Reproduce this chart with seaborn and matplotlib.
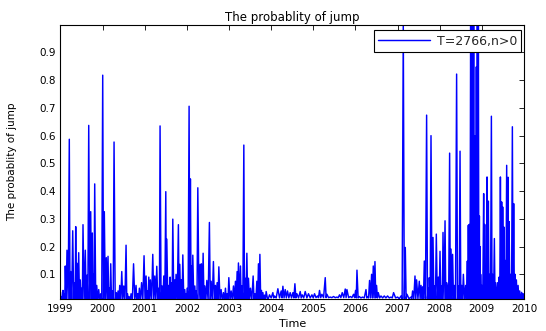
import matplotlib
matplotlib.use("Agg")
import matplotlib.pyplot as plt
import pandas as pd
import seaborn as sns

# Local peaks of the jump probability (fractional year, probability)
jump_years = [
    1999.000, 1999.036, 1999.059, 1999.088, 1999.114, 1999.154, 1999.209, 1999.242,
    1999.290, 1999.337, 1999.361, 1999.392, 1999.432, 1999.470, 1999.504, 1999.534,
    1999.589, 1999.629, 1999.670, 1999.717, 1999.755, 1999.779, 1999.812, 1999.860,
    1999.907, 1999.955, 2000.002, 2000.040, 2000.088, 2000.128, 2000.159, 2000.192,
    2000.230, 2000.271, 2000.325, 2000.366, 2000.406, 2000.454, 2000.501, 2000.556,
    2000.591, 2000.627, 2000.675, 2000.734, 2000.793, 2000.833, 2000.872, 2000.924,
    2000.983, 2001.031, 2001.062, 2001.095, 2001.133, 2001.190, 2001.238, 2001.285,
    2001.333, 2001.363, 2001.411, 2001.451, 2001.499, 2001.523, 2001.570, 2001.601,
    2001.632, 2001.665, 2001.713, 2001.743, 2001.798, 2001.831, 2001.869, 2001.903,
    2001.950, 2001.981, 2002.005, 2002.052, 2002.083, 2002.116, 2002.140, 2002.188,
    2002.219, 2002.259, 2002.314, 2002.344, 2002.385, 2002.425, 2002.473, 2002.534,
    2002.575, 2002.629, 2002.677, 2002.717, 2002.758, 2002.812, 2002.867, 2002.915,
    2002.955, 2002.995, 2003.050, 2003.105, 2003.152, 2003.192, 2003.223, 2003.271,
    2003.304, 2003.351, 2003.382, 2003.423, 2003.461, 2003.508, 2003.572, 2003.613,
    2003.660, 2003.698, 2003.732, 2003.770, 2003.803, 2003.843, 2003.881, 2003.960,
    2004.040, 2004.078, 2004.159, 2004.238, 2004.278, 2004.333, 2004.387, 2004.451,
    2004.516, 2004.563, 2004.610, 2004.689, 2004.736, 2004.808, 2004.886, 2004.967,
    2005.029, 2005.100, 2005.147, 2005.204, 2005.283, 2005.323, 2005.401, 2005.480,
    2005.561, 2005.622, 2005.686, 2005.758, 2005.798, 2005.877, 2005.955, 2006.003,
    2006.036, 2006.090, 2006.169, 2006.250, 2006.288, 2006.335, 2006.383, 2006.423,
    2006.463, 2006.501, 2006.542, 2006.606, 2006.684, 2006.762, 2006.843, 2006.905,
    2007.000, 2007.081, 2007.135, 2007.183, 2007.223, 2007.318, 2007.356, 2007.413,
    2007.451, 2007.515, 2007.556, 2007.594, 2007.634, 2007.689, 2007.729, 2007.753,
    2007.793, 2007.841, 2007.879, 2007.919, 2007.967, 2008.007, 2008.045, 2008.078,
    2008.126, 2008.164, 2008.188, 2008.235, 2008.268, 2008.306, 2008.347, 2008.401,
    2008.442, 2008.482, 2008.520, 2008.561, 2008.615, 2008.656, 2008.679, 2008.703,
    2008.734, 2008.758, 2008.782, 2008.805, 2008.829, 2008.846, 2008.869, 2008.893,
    2008.917, 2008.941, 2008.957, 2008.971, 2009.000, 2009.043, 2009.067, 2009.090,
    2009.123, 2009.154, 2009.185, 2009.226, 2009.257, 2009.297, 2009.328, 2009.375,
    2009.409, 2009.440, 2009.470, 2009.494, 2009.527, 2009.551, 2009.589, 2009.622,
    2009.646, 2009.684, 2009.724, 2009.755, 2009.789, 2009.819, 2009.860, 2009.898,
    2009.945, 2009.979, 2010.000,
]
jump_probs = [
    0.036, 0.020, 0.042, 0.030, 0.130, 0.187, 0.587, 0.110,
    0.257, 0.070, 0.272, 0.140, 0.178, 0.080, 0.050, 0.279,
    0.187, 0.097, 0.637, 0.326, 0.249, 0.100, 0.426, 0.060,
    0.045, 0.030, 0.818, 0.326, 0.160, 0.165, 0.050, 0.138,
    0.040, 0.577, 0.034, 0.040, 0.060, 0.110, 0.058, 0.205,
    0.030, 0.020, 0.030, 0.138, 0.060, 0.030, 0.050, 0.070,
    0.167, 0.094, 0.040, 0.090, 0.080, 0.172, 0.094, 0.129,
    0.050, 0.635, 0.058, 0.094, 0.398, 0.227, 0.060, 0.090,
    0.070, 0.299, 0.080, 0.100, 0.279, 0.136, 0.080, 0.170,
    0.045, 0.030, 0.050, 0.706, 0.444, 0.130, 0.169, 0.058,
    0.040, 0.412, 0.136, 0.138, 0.176, 0.058, 0.078, 0.287,
    0.075, 0.146, 0.060, 0.070, 0.127, 0.045, 0.034, 0.050,
    0.030, 0.088, 0.040, 0.058, 0.075, 0.110, 0.141, 0.130,
    0.058, 0.566, 0.086, 0.176, 0.086, 0.050, 0.094, 0.030,
    0.075, 0.138, 0.172, 0.042, 0.034, 0.025, 0.038, 0.026,
    0.034, 0.022, 0.048, 0.040, 0.057, 0.045, 0.040, 0.034,
    0.034, 0.066, 0.030, 0.038, 0.026, 0.038, 0.030, 0.026,
    0.030, 0.022, 0.042, 0.028, 0.088, 0.028, 0.018, 0.020,
    0.018, 0.026, 0.034, 0.047, 0.045, 0.020, 0.028, 0.042,
    0.115, 0.020, 0.018, 0.045, 0.018, 0.078, 0.100, 0.130,
    0.146, 0.060, 0.034, 0.022, 0.022, 0.022, 0.018, 0.034,
    0.018, 0.022, 1.000, 0.197, 0.028, 0.018, 0.040, 0.094,
    0.080, 0.075, 0.060, 0.055, 0.148, 0.674, 0.050, 0.088,
    0.600, 0.233, 0.058, 0.245, 0.090, 0.183, 0.058, 0.251,
    0.293, 0.070, 0.060, 0.537, 0.191, 0.172, 0.060, 0.822,
    0.058, 0.544, 0.060, 0.100, 0.060, 0.148, 0.277, 0.280,
    1.000, 1.000, 1.000, 1.000, 0.600, 0.440, 0.848, 1.000,
    1.000, 0.310, 0.200, 0.100, 0.060, 0.391, 0.280, 0.130,
    0.451, 0.364, 0.100, 0.670, 0.100, 0.229, 0.070, 0.070,
    0.090, 0.451, 0.361, 0.343, 0.270, 0.150, 0.493, 0.450,
    0.290, 0.100, 0.632, 0.355, 0.100, 0.080, 0.060, 0.040,
    0.035, 0.030, 0.020,
]

# Level the series falls back to between peaks, per calendar year
floor_years = [1999, 2000, 2001, 2002, 2003, 2004, 2005, 2006, 2007, 2008, 2009]
floor_probs = [0.004, 0.004, 0.004, 0.004, 0.006, 0.015, 0.016, 0.015, 0.012, 0.004, 0.004]

year_ticks = list(range(1999, 2011))
prob_ticks = [0.1, 0.2, 0.3, 0.4, 0.5, 0.6, 0.7, 0.8, 0.9]
series_label = "T=2766,n>0"

# Peaks alternate with the yearly floor level
floor_of = dict(zip(floor_years, floor_probs))
times, probs = [], []
for i, (t, p) in enumerate(zip(jump_years, jump_probs)):
    times.append(t)
    probs.append(p)
    if i + 1 < len(jump_years):
        mid = 0.5 * (t + jump_years[i + 1])
        times.append(mid)
        probs.append(floor_of[int(mid)])
df = pd.DataFrame({"Time": times, "prob": probs})

sns.set_theme(style="white")
plt.rcParams["font.family"] = ["DejaVu Sans"]

fig = plt.figure(figsize=(5.46, 3.31), dpi=100)
ax = fig.add_axes([0.1108, 0.0958, 0.8489, 0.8296])

sns.lineplot(data=df, x="Time", y="prob", sort=False, estimator=None,
             color=(0, 0, 1), linewidth=1.05, label=series_label, ax=ax)

ax.set_xlim(1999, 2010)
ax.set_ylim(0.01, 1.0)
ax.set_xticks(year_ticks)
ax.set_xticklabels([str(y) for y in year_ticks])
ax.set_yticks(prob_ticks)
ax.set_yticklabels([f"{v:.1f}" for v in prob_ticks])

for s in ax.spines.values():
    s.set_color("black")
    s.set_linewidth(0.8)
ax.tick_params(axis="both", direction="in", top=True, right=True, length=3.3,
               width=0.6, color="black", labelsize=7.5, labelcolor="black")
ax.tick_params(axis="x", pad=3.5)
ax.tick_params(axis="y", pad=3)

ax.set_title("The probablity of jump", fontsize=8.5, color="black", pad=3)
ax.set_xlabel("Time", fontsize=8, color="black")
ax.set_ylabel("The probablity of jump", fontsize=7.5, color="black")
ax.xaxis.set_label_coords(0.5, -0.07)
ax.yaxis.set_label_coords(-0.093, 0.5)

leg = ax.legend(loc="upper right", bbox_to_anchor=(0.9946, 0.979), borderaxespad=0,
                fontsize=9, frameon=True, fancybox=False, framealpha=1,
                edgecolor="black", handlelength=4.2, handletextpad=0.5,
                borderpad=0.35)
leg.get_frame().set_linewidth(0.8)

fig.savefig("out.png", dpi=100)
